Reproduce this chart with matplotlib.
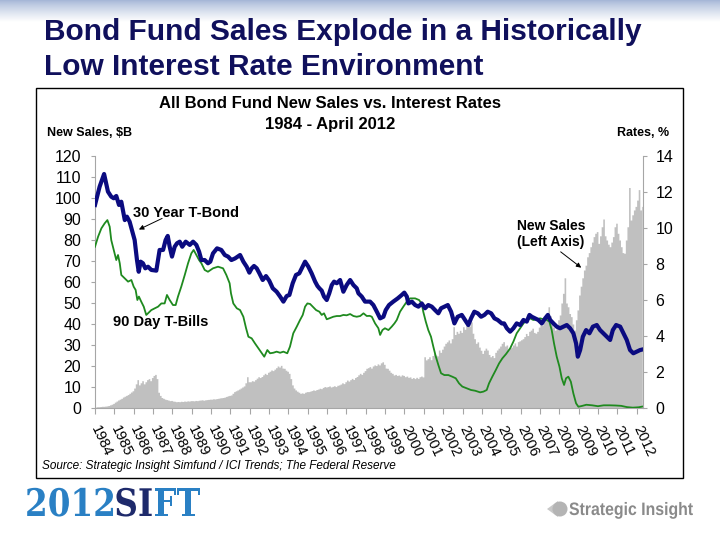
import numpy as np
import matplotlib
matplotlib.use('Agg')
import matplotlib.pyplot as plt
from matplotlib.patches import Rectangle, Circle, Polygon, PathPatch
from matplotlib.textpath import TextPath
from matplotlib.font_manager import FontProperties
from matplotlib.transforms import Affine2D

# Ventas nuevas de fondos de bonos, $B (mensual, ene 1984 - abr 2012)
sales = [
    0.5, 0.6, 0.6, 0.7, 0.8, 0.8, 0.9, 1.0, 1.2, 1.5, 1.8, 2.2,            # 1984
    2.8, 3.3, 3.8, 4.2, 4.6, 5.2, 5.6, 6.0, 6.4, 7.0, 7.6, 8.2,            # 1985
    9.5, 11.5, 13.5, 11.0, 12.0, 13.0, 11.5, 12.5, 13.5, 14.0, 13.0, 14.5,  # 1986
    15.5, 16.0, 14.0, 7.5, 6.0, 5.0, 4.6, 4.2, 4.0, 3.8, 3.5, 3.6,         # 1987
    3.3, 3.2, 3.0, 3.1, 3.0, 3.2, 3.1, 3.3, 3.2, 3.4, 3.3, 3.5,            # 1988
    3.5, 3.4, 3.6, 3.5, 3.7, 3.8, 3.9, 3.7, 3.9, 4.0, 4.1, 4.2,            # 1989
    4.2, 4.4, 4.3, 4.5, 4.6, 4.8, 4.9, 5.0, 5.2, 5.5, 5.8, 6.0,            # 1990
    6.2, 7.0, 7.8, 8.2, 8.6, 9.0, 9.5, 10.0, 10.5, 12.0, 14.9, 12.5,       # 1991
    12.5, 13.0, 12.8, 13.5, 14.2, 14.9, 14.5, 15.0, 15.8, 16.5, 16.0, 17.0,  # 1992
    17.5, 18.1, 17.8, 18.5, 19.2, 20.0, 19.5, 20.3, 19.0, 18.9, 18.0, 17.5,  # 1993
    16.5, 14.0, 11.0, 9.5, 8.6, 8.0, 7.5, 7.0, 7.2, 7.0, 7.5, 7.8,         # 1994
    7.8, 8.0, 8.3, 8.6, 8.4, 8.8, 9.0, 9.4, 9.2, 9.8, 10.2, 10.0,          # 1995
    10.2, 10.5, 10.0, 10.3, 10.6, 10.2, 10.8, 11.0, 11.4, 12.0, 11.6, 12.5,  # 1996
    13.3, 12.8, 13.5, 14.1, 13.6, 14.5, 15.0, 15.8, 16.5, 16.0, 17.0, 17.8,  # 1997
    18.9, 19.2, 19.7, 19.0, 20.0, 20.5, 20.2, 21.0, 20.5, 21.5, 22.0, 20.8,  # 1998
    19.0, 18.9, 18.0, 17.0, 16.5, 15.7, 16.0, 15.5, 15.7, 15.2, 15.8, 15.5,  # 1999
    14.9, 15.2, 14.6, 14.8, 14.1, 14.5, 14.0, 14.6, 14.1, 14.9, 15.2, 14.8,  # 2000
    24.4, 22.9, 23.5, 24.4, 23.0, 25.0, 26.0, 25.2, 24.8, 27.6, 26.5, 28.0,  # 2001
    29.5, 30.8, 31.5, 32.4, 31.0, 33.0, 38.7, 35.0, 36.5, 35.6, 37.0, 36.0,  # 2002
    38.7, 37.5, 39.5, 40.3, 39.0, 41.0, 35.6, 33.0, 30.8, 31.5, 29.0, 27.5,  # 2003
    26.0, 27.5, 28.5, 27.6, 25.5, 24.4, 25.0, 24.0, 26.5, 27.6, 28.5, 29.5,  # 2004
    30.8, 31.6, 29.5, 30.0, 27.6, 28.5, 29.0, 30.0, 31.0, 29.5, 31.6, 32.0,  # 2005
    32.5, 33.0, 34.0, 35.5, 34.5, 36.5, 37.1, 38.0, 36.0, 35.6, 36.5, 38.5,  # 2006
    40.3, 39.5, 41.0, 41.9, 43.0, 48.2, 44.0, 40.3, 38.5, 37.1, 39.0, 42.0,  # 2007
    44.3, 50.0, 54.6, 62.0, 50.0, 48.2, 45.0, 43.5, 40.0, 37.1, 42.0, 46.7,  # 2008
    53.8, 58.0, 62.0, 65.7, 68.0, 72.0, 74.0, 76.8, 79.0, 81.6, 83.2, 84.0,  # 2009
    78.4, 82.0, 86.3, 90.0, 82.0, 80.0, 78.0, 76.8, 79.0, 81.6, 86.3, 88.0,  # 2010
    83.2, 80.0, 76.8, 74.0, 73.7, 80.0, 86.3, 105.0, 89.5, 92.0, 94.3, 96.0,  # 2011
    99.0, 104.0, 94.3, 96.0,                                               # 2012
]

# 30 Year T-Bond, %
tbond_t = [1984.0, 1984.24, 1984.47, 1984.67, 1984.84, 1984.97, 1985.10, 1985.24, 1985.36, 1985.54,
           1985.65, 1985.79, 1985.93, 1986.05, 1986.17, 1986.26, 1986.36, 1986.48, 1986.60, 1986.74,
           1986.91, 1987.17, 1987.34, 1987.52, 1987.65, 1987.76, 1987.86, 1987.98, 1988.12, 1988.24,
           1988.38, 1988.51, 1988.69, 1988.90, 1989.07, 1989.24, 1989.38, 1989.50, 1989.67, 1989.84,
           1989.96, 1990.10, 1990.31, 1990.53, 1990.71, 1990.88, 1991.05, 1991.24, 1991.50, 1991.67,
           1991.84, 1991.98, 1992.10, 1992.22, 1992.36, 1992.50, 1992.67, 1992.84, 1993.01, 1993.19,
           1993.39, 1993.57, 1993.74, 1993.91, 1994.05, 1994.22, 1994.39, 1994.56, 1994.69, 1994.86,
           1995.03, 1995.20, 1995.38, 1995.50, 1995.60, 1995.72, 1995.84, 1995.98, 1996.11, 1996.24,
           1996.36, 1996.50, 1996.67, 1996.84, 1997.01, 1997.19, 1997.36, 1997.53, 1997.62, 1997.79,
           1997.96, 1998.22, 1998.39, 1998.57, 1998.74, 1998.91, 1999.03, 1999.20, 1999.42, 1999.65,
           1999.86, 1999.99, 2000.12, 2000.20, 2000.38, 2000.55, 2000.72, 2000.89, 2001.06, 2001.23,
           2001.41, 2001.58, 2001.75, 2001.89, 2002.06, 2002.24, 2002.41, 2002.58, 2002.75, 2002.96,
           2003.13, 2003.30, 2003.44, 2003.61, 2003.79, 2003.96, 2004.13, 2004.30, 2004.48, 2004.65,
           2004.82, 2005.03, 2005.15, 2005.29, 2005.46, 2005.63, 2005.80, 2005.98, 2006.15, 2006.32,
           2006.46, 2006.58, 2006.75, 2006.92, 2007.10, 2007.27, 2007.41, 2007.53, 2007.70, 2007.87,
           2008.04, 2008.22, 2008.39, 2008.56, 2008.73, 2008.87, 2008.96, 2009.08, 2009.22, 2009.39,
           2009.56, 2009.74, 2009.94, 2010.11, 2010.28, 2010.46, 2010.63, 2010.77, 2010.94, 2011.15,
           2011.32, 2011.49, 2011.66, 2011.83, 2012.01, 2012.18, 2012.30]
tbond = [11.28, 12.30, 13.0, 12.02, 11.74, 11.65, 11.78, 11.28, 11.46, 10.44,
         10.63, 10.35, 9.80, 9.33, 8.22, 7.57, 8.13, 8.04, 7.76, 7.85,
         7.67, 7.63, 8.78, 8.78, 9.33, 9.56, 8.96, 8.41, 8.96, 9.15,
         9.24, 8.96, 9.24, 9.06, 9.24, 9.06, 8.69, 8.22, 8.22, 8.04,
         8.13, 8.59, 8.87, 8.78, 8.5, 8.41, 8.22, 8.31, 8.5, 8.13,
         7.85, 7.52, 7.76, 7.89, 7.76, 7.48, 7.11, 7.33, 7.07, 6.65,
         6.46, 6.19, 5.91, 6.22, 6.28, 6.93, 7.39, 7.48, 7.76, 8.13,
         7.85, 7.48, 7.02, 6.78, 6.65, 6.52, 6.19, 6.0, 6.37, 6.83,
         7.02, 6.93, 7.11, 6.46, 6.83, 7.11, 6.83, 6.65, 6.37, 6.19,
         5.91, 5.91, 5.72, 5.35, 4.98, 5.07, 5.44, 5.72, 5.91, 6.09,
         6.28, 6.41, 6.19, 5.81, 5.91, 5.72, 5.63, 5.81, 5.54, 5.72,
         5.63, 5.44, 5.26, 5.54, 5.63, 5.72, 5.35, 4.70, 5.07, 5.17,
         4.89, 4.61, 4.98, 5.35, 5.26, 5.07, 5.17, 5.35, 5.26, 4.98,
         4.89, 4.70, 4.70, 4.43, 4.24, 4.43, 4.70, 4.61, 4.89, 4.80,
         5.17, 5.07, 4.98, 4.89, 4.70, 4.98, 5.17, 4.89, 4.70, 4.52,
         4.43, 4.52, 4.61, 4.43, 4.15, 3.59, 2.85, 3.22, 3.96, 4.33,
         4.15, 4.52, 4.61, 4.33, 4.15, 3.96, 3.78, 4.33, 4.61, 4.52,
         4.15, 3.78, 3.22, 3.04, 3.13, 3.22, 3.25]

# 90 Day T-Bills, %
tbill_t = [1984.0, 1984.16, 1984.33, 1984.50, 1984.64, 1984.76, 1984.84, 1984.97, 1985.10, 1985.19,
           1985.28, 1985.36, 1985.54, 1985.71, 1985.88, 1986.00, 1986.10, 1986.19, 1986.27, 1986.39,
           1986.52, 1986.65, 1986.74, 1986.91, 1987.09, 1987.26, 1987.43, 1987.60, 1987.72, 1987.86,
           1988.03, 1988.17, 1988.29, 1988.46, 1988.64, 1988.81, 1988.98, 1989.10, 1989.24, 1989.38,
           1989.50, 1989.67, 1989.84, 1990.10, 1990.36, 1990.62, 1990.79, 1990.96, 1991.03, 1991.15,
           1991.33, 1991.50, 1991.67, 1991.81, 1991.93, 1992.10, 1992.27, 1992.45, 1992.62, 1992.75,
           1992.91, 1993.05, 1993.22, 1993.39, 1993.57, 1993.74, 1993.94, 1994.08, 1994.25, 1994.43,
           1994.60, 1994.74, 1994.86, 1994.98, 1995.12, 1995.26, 1995.43, 1995.60, 1995.72, 1995.84,
           1995.98, 1996.11, 1996.32, 1996.50, 1996.67, 1996.84, 1997.01, 1997.19, 1997.36, 1997.53,
           1997.71, 1997.88, 1998.05, 1998.20, 1998.31, 1998.48, 1998.65, 1998.74, 1998.86, 1998.99,
           1999.17, 1999.34, 1999.48, 1999.60, 1999.77, 1999.94, 2000.12, 2000.29, 2000.55, 2000.75,
           2000.89, 2000.97, 2001.10, 2001.23, 2001.37, 2001.49, 2001.62, 2001.75, 2001.89, 2002.06,
           2002.27, 2002.47, 2002.65, 2002.82, 2002.99, 2003.22, 2003.44, 2003.65, 2003.91, 2004.08,
           2004.25, 2004.37, 2004.54, 2004.72, 2004.89, 2005.06, 2005.25, 2005.46, 2005.63, 2005.80,
           2005.98, 2006.15, 2006.32, 2006.49, 2006.66, 2006.84, 2007.01, 2007.18, 2007.36, 2007.49,
           2007.61, 2007.73, 2007.87, 2008.01, 2008.13, 2008.25, 2008.35, 2008.47, 2008.60, 2008.73,
           2008.87, 2008.99, 2009.16, 2009.40, 2009.70, 2010.00, 2010.30, 2010.60, 2010.90, 2011.20,
           2011.50, 2011.80, 2012.10, 2012.30]
tbill = [8.96, 9.52, 9.98, 10.26, 10.44, 10.07, 9.33, 8.78, 8.22, 8.5,
         8.04, 7.39, 7.20, 7.02, 7.11, 6.74, 6.56, 6.0, 6.19, 5.91,
         5.63, 5.17, 5.26, 5.44, 5.54, 5.63, 5.81, 5.81, 6.28, 6.0,
         5.72, 5.72, 6.19, 6.74, 7.39, 8.04, 8.59, 8.78, 8.5, 8.22,
         8.04, 7.67, 7.57, 7.76, 7.85, 7.76, 7.39, 6.93, 6.37, 5.81,
         5.54, 5.44, 5.07, 4.43, 3.96, 3.87, 3.59, 3.31, 3.04, 2.85,
         3.22, 3.04, 3.07, 3.13, 3.07, 3.13, 3.04, 3.41, 4.15, 4.52,
         4.89, 5.17, 5.63, 5.81, 5.78, 5.63, 5.44, 5.35, 5.17, 5.26,
         4.93, 4.98, 5.07, 5.11, 5.11, 5.17, 5.15, 5.22, 5.11, 5.07,
         5.11, 5.26, 5.11, 5.12, 5.07, 4.70, 4.43, 4.06, 4.33, 4.43,
         4.33, 4.52, 4.70, 4.89, 5.35, 5.63, 5.91, 6.09, 6.09, 6.0,
         5.81, 5.35, 4.80, 4.33, 3.96, 3.41, 2.85, 2.39, 1.93, 1.83,
         1.83, 1.74, 1.65, 1.37, 1.19, 1.09, 1.0, 0.96, 0.87, 0.91,
         1.0, 1.37, 1.74, 2.11, 2.48, 2.76, 3.0, 3.31, 3.69, 4.15,
         4.43, 4.70, 4.89, 4.98, 4.89, 4.93, 4.98, 4.93, 4.89, 4.80,
         4.33, 3.59, 2.85, 2.30, 1.65, 1.28, 1.65, 1.74, 1.46, 0.81,
         0.26, 0.07, 0.11, 0.18, 0.15, 0.10, 0.15, 0.15, 0.14, 0.12,
         0.05, 0.02, 0.04, 0.08]

years = list(range(1984, 2013))
left_ticks = [0, 10, 20, 30, 40, 50, 60, 70, 80, 90, 100, 110, 120]
right_ticks = [0, 2, 4, 6, 8, 10, 12, 14]

NAVY = '#0b0b80'
GREEN = '#1f8a1f'
GREY = '#c0c0c0'
AXC = '#a6a6a6'


def fx(px):
    return px / 720.0


def fy(py):
    return 1 - py / 540.0


def logo_text(ax, x, y_base, parts, family, size, xscale):
    ''' Dibuja texto (en pixeles, eje y invertido) estrechado en x.
    parts: lista de (texto, color). Regresa la x final '''
    prop = FontProperties(family=family, weight='bold')
    for txt, col in parts:
        tp = TextPath((0, 0), txt, size=size, prop=prop)
        ext = tp.get_extents()
        tr = Affine2D().scale(xscale, -1).translate(x, y_base)
        ax.add_patch(PathPatch(tr.transform_path(tp), facecolor=col, edgecolor='none'))
        # avance horizontal del texto
        x += (ext.x1 + size * 0.04) * xscale
    return x


def main():
    plt.rcParams['font.family'] = ['Liberation Sans', 'DejaVu Sans']
    fig = plt.figure(figsize=(7.2, 5.4), dpi=100)
    fig.patch.set_facecolor('white')

    # fondo en pixeles: degradado, caja del grafico, logos
    bg = fig.add_axes([0, 0, 1, 1])
    bg.axis('off')
    grad = np.linspace(0, 1, 64).reshape(-1, 1)
    top = np.array([0.64, 0.71, 0.84])
    img = top + (1 - top) * grad[:, :, None] ** 0.8
    bg.imshow(img, extent=[0, 720, 22, 0], aspect='auto')
    bg.add_patch(Rectangle((36, 88), 647, 390, facecolor='white', edgecolor='black', lw=1))
    bg.add_patch(Polygon([[547, 509], [558, 501], [558, 517]], closed=True, facecolor='#c8c8c8', edgecolor='none'))
    bg.add_patch(Circle((560, 509), 7.5, facecolor='#b4b4b4', edgecolor='none'))
    logo_text(bg, 25, 516, [('2012', '#2a80c4'), ('SI', '#1e2a6b'), ('FT', '#2a80c4')],
              'DejaVu Serif', 38, 0.86)
    logo_text(bg, 569, 515, [('Strategic Insight', '#8a8a8a')], 'Liberation Sans', 18, 0.88)
    bg.set_xlim(0, 720)
    bg.set_ylim(540, 0)

    # eje de ventas (izquierda)
    ax = fig.add_axes([fx(95), fy(408), fx(643 - 95), (408 - 156) / 540.0])
    ax.set_zorder(2)
    x_months = 1984 + (np.arange(len(sales)) + 0.5) / 12.0
    ax.fill_between(x_months, sales, step='mid', color=GREY, linewidth=0)
    ax.set_xlim(1984.0, 2012.33)
    ax.set_ylim(0, 120)
    ax.set_yticks(left_ticks)
    ax.set_yticklabels([str(v) for v in left_ticks], fontsize=11.5)
    ax.set_xticks(years)
    ax.set_xticklabels([str(y) for y in years], rotation=-65, ha='left', va='center',
                       rotation_mode='anchor', fontsize=10.5)
    ax.tick_params(axis='y', length=3, color=AXC, pad=7)
    ax.tick_params(axis='x', length=4, color=AXC, pad=9)
    for s in ['top', 'right']:
        ax.spines[s].set_visible(False)
    for s in ['left', 'bottom']:
        ax.spines[s].set_color(AXC)

    # eje de tasas (derecha)
    ax2 = ax.twinx()
    ax2.set_zorder(3)
    ax2.plot(tbill_t, tbill, color=GREEN, lw=1.3)
    ax2.plot(tbond_t, tbond, color=NAVY, lw=3.0, solid_joinstyle='round')
    ax2.set_ylim(0, 14)
    ax2.set_xlim(1984.0, 2012.33)
    ax2.set_yticks(right_ticks)
    ax2.set_yticklabels([str(v) for v in right_ticks], fontsize=11.5)
    ax2.tick_params(axis='y', length=3, color=AXC, pad=6)
    for s in ['top', 'left', 'bottom']:
        ax2.spines[s].set_visible(False)
    ax2.spines['right'].set_color(AXC)

    # etiquetas dentro del grafico
    ax2.text(1985.96, 10.84, '30 Year T-Bond', fontsize=10.5, fontweight='bold', va='center')
    ax2.annotate('', xy=(1986.14, 9.85), xytext=(1987.6, 10.6),
                 arrowprops=dict(arrowstyle='-|>', color='black', lw=0.7, mutation_scale=7))
    ax2.text(1984.93, 4.78, '90 Day T-Bills', fontsize=10.5, fontweight='bold', va='center')
    ax2.text(2005.82, 9.67, 'New Sales\n(Left Axis)', fontsize=10, fontweight='bold', va='center',
             linespacing=1.15)
    ax2.annotate('', xy=(2009.25, 7.7), xytext=(2007.96, 8.77),
                 arrowprops=dict(arrowstyle='-|>', color='black', lw=0.7, mutation_scale=7))

    # textos
    fig.text(fx(44), fy(32), 'Bond Fund Sales Explode in a Historically', fontsize=21.5,
             fontweight='bold', color='#10105c', va='center')
    fig.text(fx(44), fy(67), 'Low Interest Rate Environment', fontsize=21.5,
             fontweight='bold', color='#10105c', va='center')
    fig.text(fx(330), fy(103), 'All Bond Fund New Sales vs. Interest Rates', fontsize=12,
             fontweight='bold', ha='center', va='center')
    fig.text(fx(330), fy(124), '1984 - April 2012', fontsize=12, fontweight='bold',
             ha='center', va='center')
    fig.text(fx(47), fy(133), 'New Sales, $B', fontsize=9, fontweight='bold', va='center')
    fig.text(fx(669), fy(133), 'Rates, %', fontsize=9, fontweight='bold', va='center', ha='right')
    fig.text(fx(42), fy(466), 'Source: Strategic Insight Simfund / ICI Trends; The Federal Reserve',
             fontsize=8.5, style='italic', va='center')

    fig.savefig('out.png', dpi=100)


if __name__ == '__main__':
    main()
